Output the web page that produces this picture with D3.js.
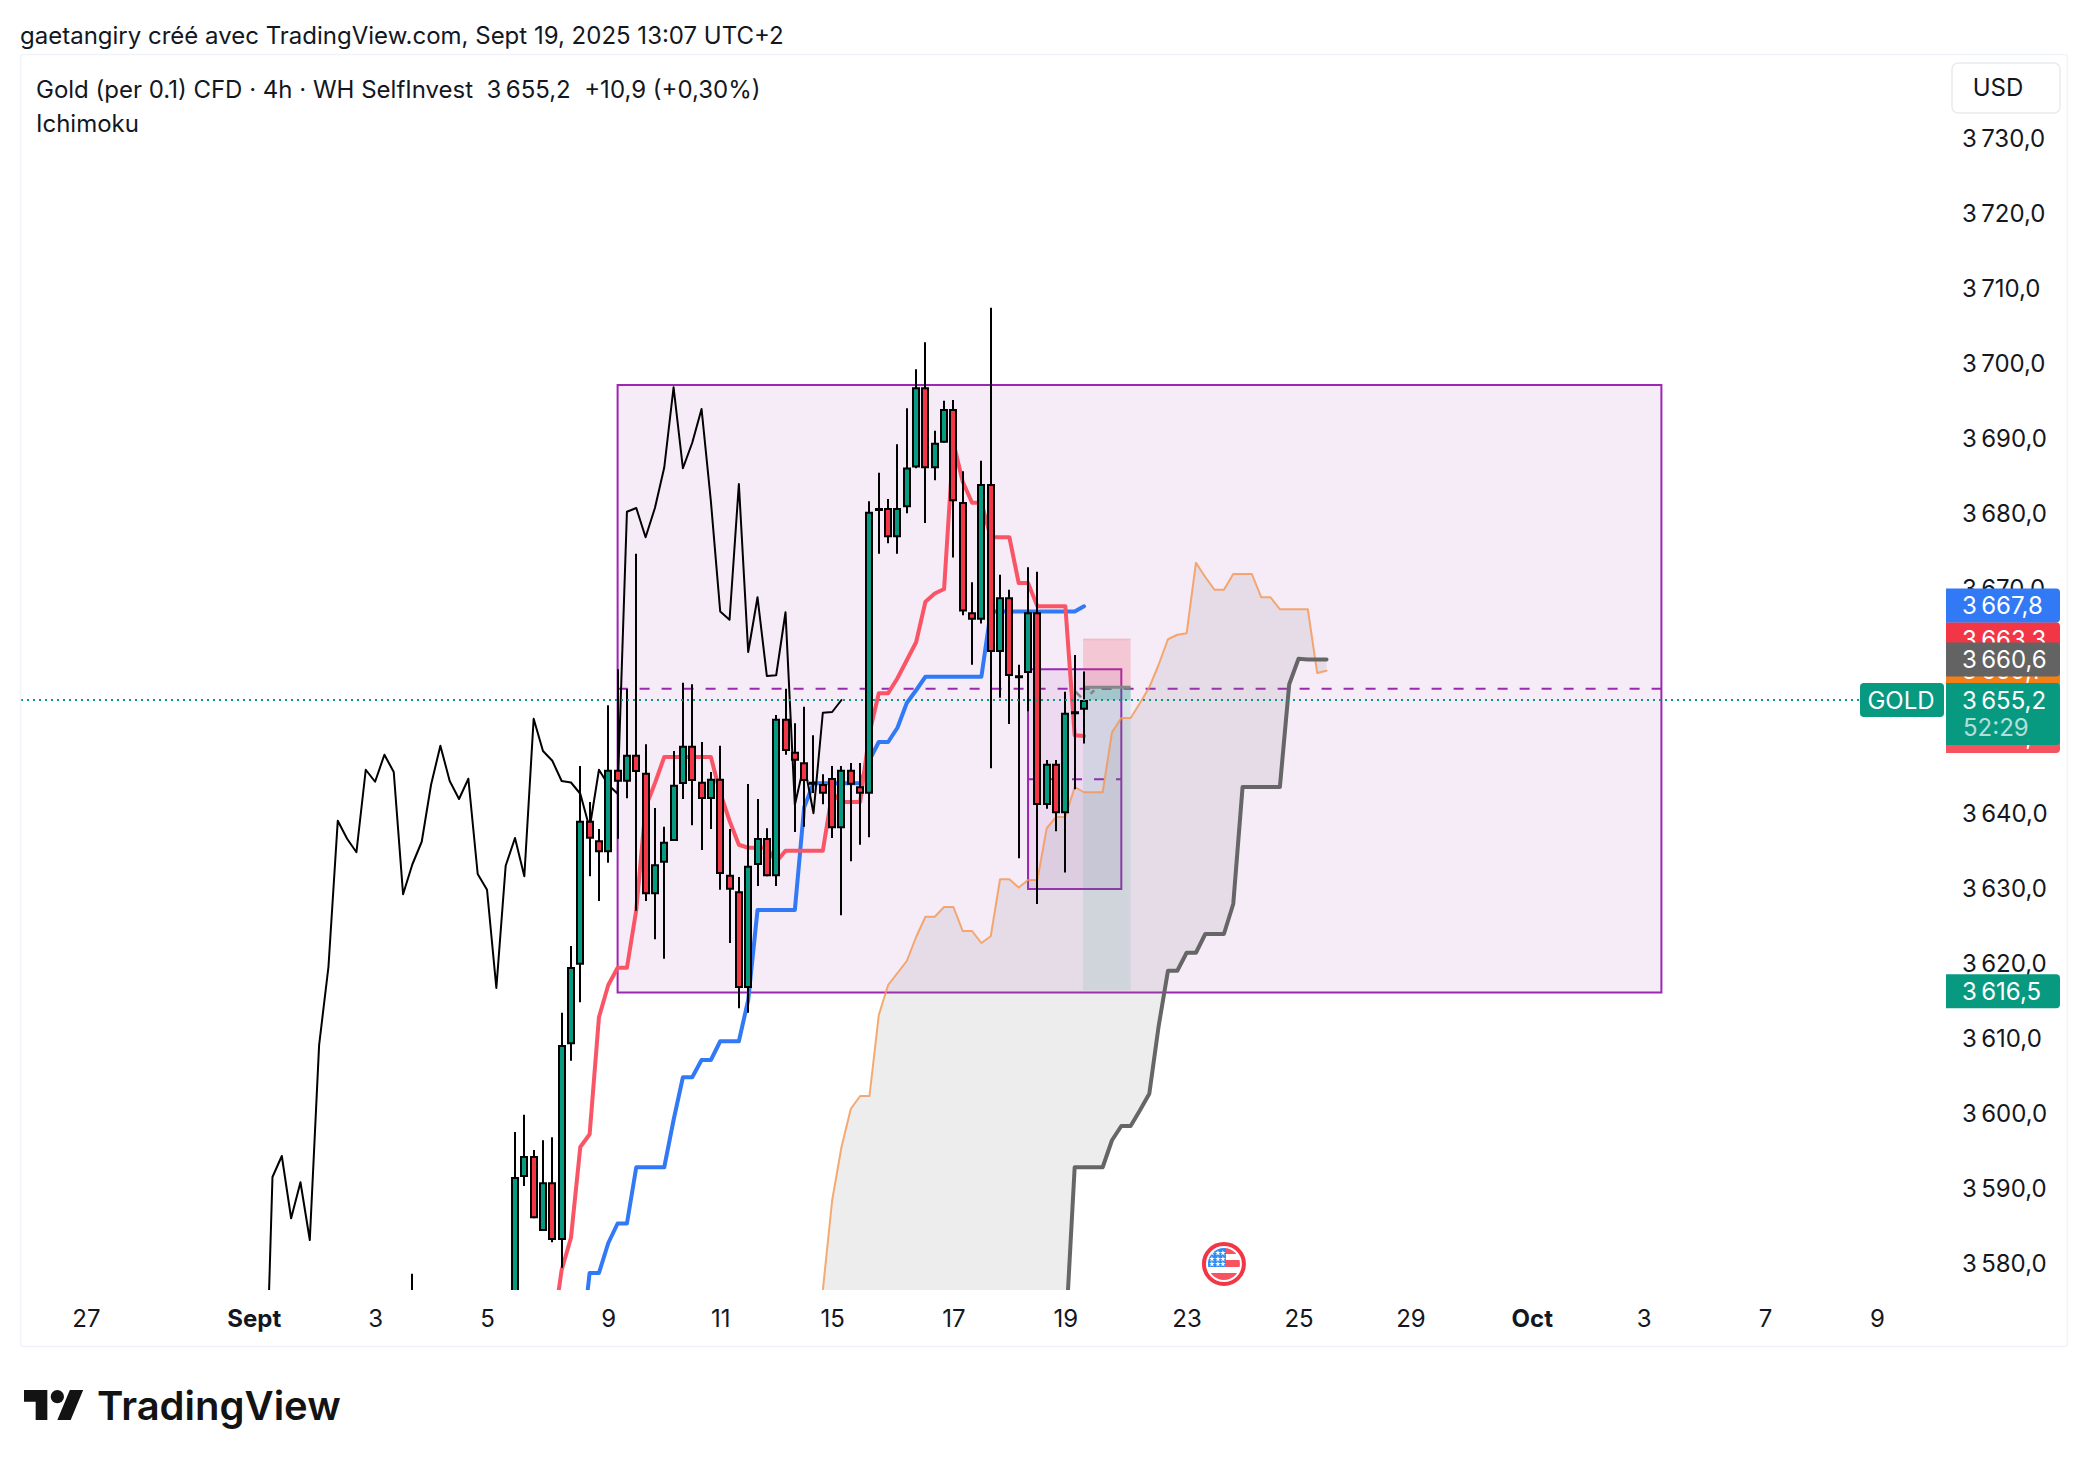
<!DOCTYPE html>
<html>
<head>
<meta charset="utf-8">
<title>Gold 4h Ichimoku</title>
<script src="https://cdn.jsdelivr.net/npm/d3@7"></script>
<style>
    html, body { margin: 0; padding: 0; background: #fff; }
    svg { display: block; }
    text { font-family: Inter, "Noto Sans", sans-serif; fill: #131722; white-space: pre; }
    .axis path { display: none; }
    .axis text { font-size: 24px; font-family: Inter, sans-serif; fill: #131722; }
</style>
</head>
<body>
<div id="chart"></div>
<script>
// bar number 0 is the first candle that shows a body on the chart
const firstBar = -11;
const opens = [3566,3570,3564,3560,3556,3552,3558,3556,3550,3553,3560,
    3565,3591.6,3594.4,3584.4,3590.9,3583.2,3609.3,3619.9,3639.1,3636.5,3634.9,
    3645.9,3644.3,3647.9,3645.5,3629.3,3633.5,3636.4,3644.0,3649.1,3644.3,3642.0,
    3644.7,3631.9,3629.7,3616.8,3633.2,3636.8,3631.7,3652.7,3648.3,3646.9,3644.3,
    3644.0,3644.8,3638.1,3645.9,3643.7,3642.7,3680.4,3680.8,3676.9,3680.9,3686.2,
    3696.9,3686.1,3689.5,3694.0,3681.6,3666.9,3665.9,3684.0,3661.6,3668.9,3658.5,
    3658.8,3666.9,3641.2,3646.7,3640.1,3653.7,3653.9];
const highs = [3578.7,3572,3568,3564,3560,3562,3560,3559,3556,3562,3566,
    3597.6,3599.9,3595.2,3596.5,3596.9,3613.5,3622.4,3646.4,3641.6,3638.0,3654.5,
    3659.3,3656.7,3674.7,3649.3,3640.8,3638.3,3648.4,3657.5,3657.3,3649.6,3645.6,
    3649.1,3638.0,3631.6,3644.0,3642.0,3638.1,3653.2,3656.7,3652.1,3654.3,3650.5,
    3645.3,3646.4,3646.4,3646.8,3646.8,3681.7,3685.5,3682.0,3689.3,3694.1,3699.3,
    3702.9,3691.1,3695.1,3695.2,3685.7,3670.9,3687.1,3707.5,3671.9,3669.9,3659.9,
    3672.9,3672.3,3647.2,3647.2,3656.3,3661.2,3659.0];
const lows = [3560,3560,3556,3550,3548,3550,3552,3548,3546,3550,3548,
    3560,3590.4,3586.1,3584.4,3582.9,3579.5,3607.1,3614.9,3631.7,3628.4,3633.5,
    3636.7,3642.1,3627.1,3628.4,3623.3,3620.7,3636.4,3642.0,3638.5,3635.2,3638.0,
    3629.9,3622.8,3614.1,3613.5,3630.4,3631.7,3630.4,3647.9,3637.6,3638.3,3642.8,
    3641.3,3636.8,3626.5,3633.7,3635.9,3636.9,3674.7,3676.1,3674.7,3680.1,3686.1,
    3678.8,3684.5,3689.5,3674.2,3666.5,3659.9,3665.4,3646.1,3655.5,3652.0,3634.1,
    3653.7,3628.0,3640.7,3637.7,3632.2,3643.3,3649.4];
const closes = [3571,3565,3560,3555,3552,3558,3556,3550,3553,3555,3550,
    3591.6,3594.4,3586.1,3590.9,3583.2,3609.2,3619.6,3639.1,3636.7,3634.9,3645.9,
    3644.3,3647.9,3645.6,3629.3,3633.3,3636.3,3643.9,3649.1,3644.4,3642.0,3644.7,
    3632.0,3629.9,3616.8,3633.1,3636.8,3631.7,3652.7,3648.4,3647.1,3644.4,3644.2,
    3642.7,3638.1,3645.9,3643.9,3642.7,3680.3,3680.8,3676.9,3680.8,3686.2,3696.9,
    3686.1,3689.5,3694.0,3681.7,3667.0,3665.9,3684.0,3661.6,3668.9,3658.4,3658.5,
    3666.9,3641.2,3646.7,3640.1,3653.5,3653.6,3655.2];

// Ichimoku lines, each with the bar number of its first value
const tenkanStart = 4;
const tenkan = [3570.5,3579.2,3583.5,3595.6,3597.3,3612.9,3617.2,3619.5,3619.5,3627.2,
    3640.9,3644.1,3647.6,3647.6,3647.6,3647.6,3647.6,3647.6,3642.8,3639.1,3635.9,3635.5,
    3635.5,3635.5,3633.6,3635.1,3635.1,3635.1,3635.1,3635.1,3642.8,3641.6,3641.6,3641.6,
    3650.8,3656.1,3656.1,3658.1,3660.5,3662.9,3668.3,3669.4,3670.0,3689.5,3684.3,3681.5,
    3681.5,3676.9,3676.9,3676.9,3670.8,3670.8,3667.7,3667.7,3667.7,3667.7,3650.5,3650.4];
const kijunStart = 7;
const kijun = [3567.7,3578.8,3578.8,3582.8,3585.4,3585.4,3592.9,3592.9,3592.9,3592.9,
    3599.2,3604.9,3604.9,3607.2,3607.2,3609.7,3609.7,3609.7,3615.2,3627.2,3627.2,3627.2,
    3627.2,3627.2,3640.9,3644.1,3644.1,3644.1,3644.1,3644.1,3644.1,3647.2,3649.6,3649.6,
    3651.5,3654.8,3656.5,3658.3,3658.3,3658.3,3658.3,3658.3,3658.3,3658.3,3667.0,3667.0,
    3667.0,3667.0,3667.0,3667.0,3667.0,3667.0,3667.0,3667.0,3667.7];
const senkouStart = 32;
const senkouA = [3564.5,3576.5,3588.5,3595.6,3600.7,3602.4,3602.4,3613.2,3617.2,3618.8,
    3620.4,3623.6,3626.3,3626.3,3627.6,3627.6,3624.4,3624.4,3622.8,3623.7,3631.3,3631.3,
    3630.2,3631.2,3631.2,3638.1,3639.6,3639.6,3643.6,3642.9,3642.9,3642.9,3650.9,3652.8,
    3652.8,3654.8,3656.9,3659.9,3663.3,3663.9,3664.1,3673.5,3671.6,3669.9,3669.9,3672.0,
    3672.0,3672.0,3668.9,3668.9,3667.3,3667.3,3667.3,3667.3,3658.8,3659.1];
const senkouB = [3570,3570,3570,3570,3570,3570,3570,3570,3570,3570,3570,3570,3570,3570,
    3570,3570,3570,3570,3570,3570,3570,3570,3570,3570,3570,3570,3570,3570,
    3592.9,3592.9,3592.9,3592.9,3596.5,3598.4,3598.4,3600.5,3602.7,3611.7,3619.1,3619.1,
    3621.5,3621.5,3624.0,3624.0,3624.0,3628.0,3643.6,3643.6,3643.6,3643.6,3643.6,3657.3,
    3660.7,3660.6,3660.6,3660.6];
const chikouShift = -26;

// drawings, as [first bar, last bar, top price, bottom price]
const bigRange = [11, 122.9, 3697.2, 3616.2];
const smallRange = [55, 65, 3659.3, 3630];
const position = [60.9, 66, 3663.3, 3656.9, 3616.5]; // bars, target, entry, stop

const priceTicks = [3580,3590,3600,3610,3620,3630,3640,3650,3660,3670,3680,3690,3700,3710,3720,3730];
const dateBars = [-46,-28,-15,-3,10,22,34,47,59,72,84,96,109,121,134,146];
const dateLabels = ["27","Sept","3","5","9","11","15","17","19","23","25","29","Oct","3","7","9"];
const boldDates = ["Sept","Oct"];

// right side tags, in drawing order
const tagPrices = [3650.4,3659.1,3663.3,3667.8,3660.6,3616.5];
const tagColors = ["#f7525f","#f57f17","#f23645","#3179f5","#636363","#089981"];
const lastPrice = 3655.2;
const countdown = "52:29";


class IchimokuChart {

    constructor(_parentElement) {
        this.parentElement = _parentElement;
        this.initVis();
    }

    initVis() {
        let vis = this;

        vis.width = 2088;
        vis.height = 1466;
        vis.plotLeft = 21;
        vis.plotRight = 1946;
        vis.plotTop = 55;
        vis.plotBottom = 1290;

        vis.svg = d3.select("#" + vis.parentElement).append("svg")
            .attr("width", vis.width)
            .attr("height", vis.height);

        vis.x = d3.scaleLinear().domain([0, 61]).range([515, 1084]);
        vis.y = d3.scaleLinear().domain([3580, 3730]).range([1264, 139]);

        vis.svg.append("clipPath").attr("id", "plot-clip").append("rect")
            .attr("x", vis.plotLeft).attr("y", vis.plotTop)
            .attr("width", vis.plotRight - vis.plotLeft)
            .attr("height", vis.plotBottom - vis.plotTop);

        vis.plot = vis.svg.append("g").attr("clip-path", "url(#plot-clip)");

        vis.wrangleData();
    }

    wrangleData() {
        let vis = this;

        vis.bars = opens.map((o, i) => ({
            i: i + firstBar, o: o, h: highs[i], l: lows[i], c: closes[i]
        }));
        vis.chikou = vis.bars.map(d => ({ i: d.i + chikouShift, v: d.c }));
        vis.tenkan = tenkan.map((v, i) => ({ i: i + tenkanStart, v: v }));
        vis.kijun = kijun.map((v, i) => ({ i: i + kijunStart, v: v }));
        vis.spanA = senkouA.map((v, i) => ({ i: i + senkouStart, v: v }));
        vis.spanB = senkouB.map((v, i) => ({ i: i + senkouStart, v: v }));
        vis.cloud = senkouA.map((v, i) => ({ i: i + senkouStart, a: v, b: senkouB[i] }));

        vis.updateVis();
    }

    updateVis() {
        let vis = this;

        vis.drawRanges();
        vis.drawPosition();
        vis.drawIchimoku();
        vis.drawCandles();
        vis.drawAxes();
        vis.drawTags();
        vis.drawTexts();
    }

    drawRanges() {
        let vis = this;
        [bigRange, smallRange].forEach(r => {
            vis.plot.append("rect")
                .attr("x", vis.x(r[0])).attr("y", vis.y(r[2]))
                .attr("width", vis.x(r[1]) - vis.x(r[0]))
                .attr("height", vis.y(r[3]) - vis.y(r[2]))
                .attr("fill", "rgba(156,39,176,0.09)")
                .attr("stroke", "#9c27b0").attr("stroke-width", 2);
            vis.plot.append("line")
                .attr("x1", vis.x(r[0])).attr("x2", vis.x(r[1]))
                .attr("y1", vis.y((r[2] + r[3]) / 2)).attr("y2", vis.y((r[2] + r[3]) / 2))
                .attr("stroke", "#9c27b0").attr("stroke-width", 2)
                .attr("stroke-dasharray", "10 12");
        });
    }

    drawPosition() {
        let vis = this;
        let left = vis.x(position[0]), w = vis.x(position[1]) - left;
        let tp = vis.y(position[2]), en = vis.y(position[3]), sl = vis.y(position[4]), now = vis.y(lastPrice);

        vis.plot.append("rect").attr("x", left).attr("y", tp).attr("width", w).attr("height", en - tp)
            .attr("fill", "rgba(242,54,69,0.2)");
        vis.plot.append("line").attr("x1", left).attr("x2", left + w).attr("y1", tp).attr("y2", tp)
            .attr("stroke", "rgba(242,54,69,0.15)").attr("stroke-width", 2);
        vis.plot.append("rect").attr("x", left).attr("y", en).attr("width", w).attr("height", sl - en)
            .attr("fill", "rgba(8,153,129,0.11)");
        vis.plot.append("rect").attr("x", left).attr("y", en).attr("width", w).attr("height", now - en)
            .attr("fill", "rgba(8,153,129,0.24)");
        vis.plot.append("line").attr("x1", left).attr("x2", left + w).attr("y1", en).attr("y2", en)
            .attr("stroke", "#878787").attr("stroke-width", 3);

        // dashed path from the entry to the last price
        let path = d3.line().x(d => vis.x(d[0])).y(d => vis.y(d[1]));
        vis.plot.append("path")
            .attr("d", path([[60, position[3] - 0.5], [61, lastPrice], [62.1, position[3] - 0.4]]))
            .attr("fill", "none").attr("stroke", "#878787").attr("stroke-width", 2.5)
            .attr("stroke-dasharray", "9 13");
    }

    drawIchimoku() {
        let vis = this;

        let area = d3.area().x(d => vis.x(d.i)).y0(d => vis.y(d.b)).y1(d => vis.y(d.a));
        vis.plot.append("path").attr("d", area(vis.cloud))
            .attr("fill", "rgba(125,130,125,0.14)");

        let line = d3.line().x(d => vis.x(d.i)).y(d => vis.y(d.v));
        let series = [
            { data: vis.spanA, color: "rgba(245,150,80,0.8)", width: 2 },
            { data: vis.spanB, color: "#666666", width: 4 },
            { data: vis.kijun, color: "#3179f5", width: 4 },
            { data: vis.tenkan, color: "#fa5566", width: 4 },
            { data: vis.chikou, color: "#000000", width: 2 }
        ];
        series.forEach(s => {
            vis.plot.append("path").attr("d", line(s.data))
                .attr("fill", "none").attr("stroke", s.color)
                .attr("stroke-width", s.width).attr("stroke-linejoin", "round")
                .attr("stroke-linecap", "round");
        });
    }

    drawCandles() {
        let vis = this;

        let candles = vis.plot.selectAll(".candle").data(vis.bars).enter().append("g")
            .attr("class", "candle");

        candles.append("line")
            .attr("x1", d => Math.round(vis.x(d.i))).attr("x2", d => Math.round(vis.x(d.i)))
            .attr("y1", d => vis.y(d.h)).attr("y2", d => vis.y(d.l))
            .attr("stroke", "#000").attr("stroke-width", 2);

        candles.append("rect")
            .attr("x", d => Math.round(vis.x(d.i)) - 3).attr("width", 6)
            .attr("y", d => vis.y(Math.max(d.o, d.c)) + 1)
            .attr("height", d => Math.max(1, Math.abs(vis.y(d.o) - vis.y(d.c)) - 2))
            .attr("fill", d => d.c >= d.o ? "#089981" : "#f23645")
            .attr("stroke", "#000").attr("stroke-width", 2);

        // last price line
        vis.svg.append("line")
            .attr("x1", vis.plotLeft).attr("x2", 1860)
            .attr("y1", vis.y(lastPrice)).attr("y2", vis.y(lastPrice))
            .attr("stroke", "#089981").attr("stroke-width", 2)
            .attr("stroke-dasharray", "2 4");
    }

    drawAxes() {
        let vis = this;

        vis.svg.append("rect")
            .attr("x", 20.5).attr("y", 54.5).attr("width", 2047).attr("height", 1292)
            .attr("rx", 3).attr("fill", "none").attr("stroke", "#f0f3fa").attr("stroke-width", 1.5);

        let yAxis = d3.axisRight(vis.y).tickValues(priceTicks).tickSize(0)
            .tickFormat(d => vis.fmtPrice(d));
        vis.svg.append("g").attr("class", "axis y-axis")
            .attr("transform", "translate(1959,0)").call(yAxis);

        let xAxis = d3.axisBottom(vis.x).tickValues(dateBars).tickSize(0)
            .tickFormat(d => dateLabels[dateBars.indexOf(d)]);
        let gx = vis.svg.append("g").attr("class", "axis x-axis")
            .attr("transform", "translate(0,1307)").call(xAxis);
        gx.selectAll("text")
            .style("font-weight", d => boldDates.includes(dateLabels[dateBars.indexOf(d)]) ? 700 : 400);
    }

    fmtPrice(v) {
        let s = v.toFixed(1).replace(".", ",");
        return s[0] + "\u2009" + s.slice(1);
    }

    drawTags() {
        let vis = this;

        tagPrices.forEach((p, i) => {
            let cy = vis.y(p) + (p === 3616.5 ? 1 : 0);
            vis.svg.append("path")
                .attr("d", vis.roundedRight(1946, cy - 17, 114, 34, 4))
                .attr("fill", tagColors[i]);
            vis.svg.append("text").attr("x", 1962).attr("y", cy + 8.5)
                .attr("font-size", 24).style("fill", "#fff").text(vis.fmtPrice(p));
        });

        // the last price tag is taller, it also holds the countdown
        let cy = vis.y(lastPrice);
        vis.svg.append("path").attr("d", vis.roundedRight(1946, cy - 17, 114, 62, 4)).attr("fill", "#089981");
        vis.svg.append("text").attr("x", 1962).attr("y", cy + 8.5)
            .attr("font-size", 24).style("fill", "#fff").text(vis.fmtPrice(lastPrice));
        vis.svg.append("text").attr("x", 1963).attr("y", cy + 35.5)
            .attr("font-size", 24).style("fill", "rgba(255,255,255,0.7)").text(countdown);

        vis.svg.append("rect").attr("x", 1860).attr("y", cy - 17).attr("width", 84).attr("height", 34)
            .attr("rx", 4).attr("fill", "#089981");
        vis.svg.append("text").attr("x", 1901).attr("y", cy + 8.5).attr("text-anchor", "middle")
            .attr("font-size", 24).style("fill", "#fff").text("GOLD");

        vis.svg.append("rect").attr("x", 1952).attr("y", 63).attr("width", 108).attr("height", 50)
            .attr("rx", 6).attr("fill", "#fff").attr("stroke", "#e8eaf0").attr("stroke-width", 1.5);
        vis.svg.append("text").attr("x", 1998).attr("y", 96).attr("text-anchor", "middle")
            .attr("font-size", 24).text("USD");
    }

    roundedRight(x, y, w, h, r) {
        let p = d3.path();
        p.moveTo(x, y);
        p.lineTo(x + w - r, y);
        p.arcTo(x + w, y, x + w, y + r, r);
        p.lineTo(x + w, y + h - r);
        p.arcTo(x + w, y + h, x + w - r, y + h, r);
        p.lineTo(x, y + h);
        p.closePath();
        return p.toString();
    }

    drawTexts() {
        let vis = this;

        vis.svg.append("text").attr("x", 20).attr("y", 44).attr("font-size", 24)
            .text("gaetangiry créé avec TradingView.com, Sept 19, 2025 13:07 UTC+2");
        vis.svg.append("text").attr("x", 36).attr("y", 98).attr("font-size", 24)
            .text("Gold (per 0.1) CFD · 4h · WH SelfInvest  3\u2009655,2  +10,9 (+0,30%)");
        vis.svg.append("text").attr("x", 36).attr("y", 132).attr("font-size", 24)
            .text("Ichimoku");

        // logo
        let logo = vis.svg.append("g").attr("transform", "translate(24,1383.3) scale(1.667)")
            .attr("fill", "#131313");
        logo.append("path").attr("d", "M14 22H7V11H0V4h14v18zM28 22h-8l7.5-18h8L28 22z");
        logo.append("circle").attr("cx", 20).attr("cy", 8).attr("r", 4);
        vis.svg.append("text").attr("x", 97).attr("y", 1420).attr("font-size", 40)
            .attr("font-weight", 600).style("fill", "#131313").text("TradingView");

        // event flag
        let cx = vis.x(76), cy = 1264;
        vis.svg.append("clipPath").attr("id", "flag-clip").append("circle")
            .attr("cx", cx).attr("cy", cy).attr("r", 16);
        vis.svg.append("circle").attr("cx", cx).attr("cy", cy).attr("r", 20)
            .attr("fill", "#fff").attr("stroke", "#f23645").attr("stroke-width", 4);
        let flag = vis.svg.append("g").attr("clip-path", "url(#flag-clip)");
        [[cy - 16, 6], [cy - 4, 7]].forEach(s => {
            flag.append("rect").attr("x", cx + 1).attr("y", s[0]).attr("width", 16).attr("height", s[1])
                .attr("fill", "#f7525f");
        });
        flag.append("rect").attr("x", cx - 16).attr("y", cy + 9).attr("width", 32).attr("height", 8)
            .attr("fill", "#f7525f");
        flag.append("rect").attr("x", cx - 16).attr("y", cy - 16).attr("width", 18).attr("height", 19)
            .attr("fill", "#2f8cf5");
        let star = d3.symbol().type(d3.symbolStar).size(10);
        [-11, -5, 0].forEach(dy => [-11, -5, 0].forEach(dx => {
            flag.append("path").attr("d", star())
                .attr("transform", "translate(" + (cx + dx - 1) + "," + (cy + dy) + ")")
                .attr("fill", "#fff");
        }));
    }
}

new IchimokuChart("chart");
</script>
</body>
</html>
